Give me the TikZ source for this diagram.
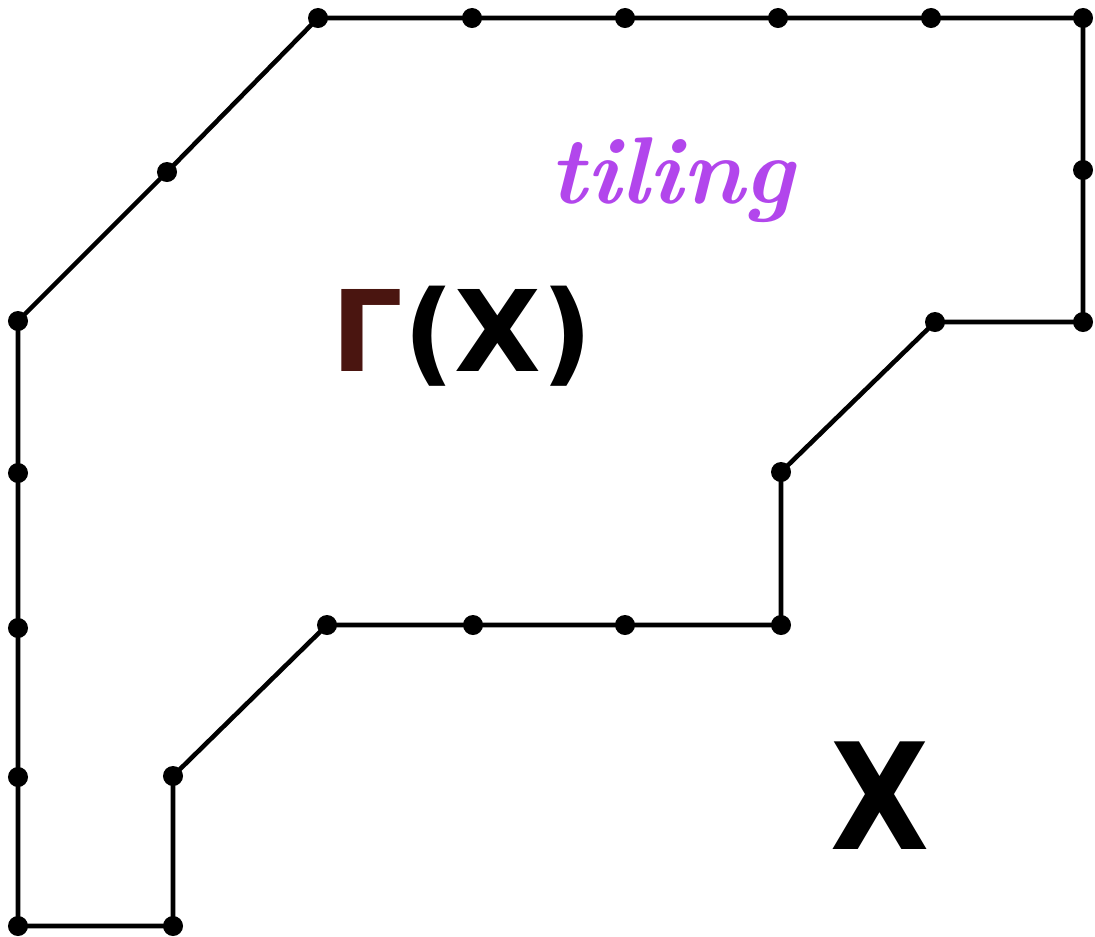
\documentclass[tikz,border=0pt]{standalone}
\usepackage{fontspec}
\newfontfamily\labelfont{DejaVu Sans}
\definecolor{tilepurple}{HTML}{B246EC}
\definecolor{gammared}{HTML}{4A1510}
\tikzset{
  edge/.style={line width=1.3pt, black},
  vdot/.style={circle, fill=black, inner sep=0pt, minimum size=0.2cm},
}
\begin{document}
\begin{tikzpicture}[x=0.01cm,y=-0.01cm]
\useasboundingbox (0,0) rectangle (1095,936);
% vertices and dots along the boundary
\coordinate (p1) at (318,18);
\coordinate (p2) at (472,18);
\coordinate (p3) at (625,18);
\coordinate (p4) at (778,18);
\coordinate (p5) at (931,18);
\coordinate (p6) at (1083,18);
\coordinate (p7) at (1083,170);
\coordinate (p8) at (1083,322);
\coordinate (p9) at (935,322);
\coordinate (p10) at (781,472);
\coordinate (p11) at (781,625);
\coordinate (p12) at (625,625);
\coordinate (p13) at (473,625);
\coordinate (p14) at (327,625);
\coordinate (p15) at (173,776);
\coordinate (p16) at (173,926);
\coordinate (p17) at (18,926);
\coordinate (p18) at (18,777);
\coordinate (p19) at (18,628);
\coordinate (p20) at (18,473);
\coordinate (p21) at (18,321);
\coordinate (p22) at (167,172);
\draw[edge] (p1) -- (p2) -- (p3) -- (p4) -- (p5) -- (p6) -- (p7) -- (p8) -- (p9)
  -- (p10) -- (p11) -- (p12) -- (p13) -- (p14) -- (p15) -- (p16) -- (p17)
  -- (p18) -- (p19) -- (p20) -- (p21) -- (p22) -- cycle;
\foreach \i in {1,...,22} \node[vdot] (d\i) at (p\i) {};
% labels
\node[text=tilepurple, font=\fontsize{27}{32}\selectfont\bfseries\itshape] (tiling) at (672,180) {tiling};
\node[font=\fontsize{32}{38}\selectfont\labelfont\bfseries] (gx) at (462,336) {\textcolor{gammared}{Γ}(X)};
\node[font=\fontsize{42}{48}\selectfont\labelfont\bfseries] (X) at (880,796) {\scalebox{0.87}[1]{X}};
\end{tikzpicture}
\end{document}
